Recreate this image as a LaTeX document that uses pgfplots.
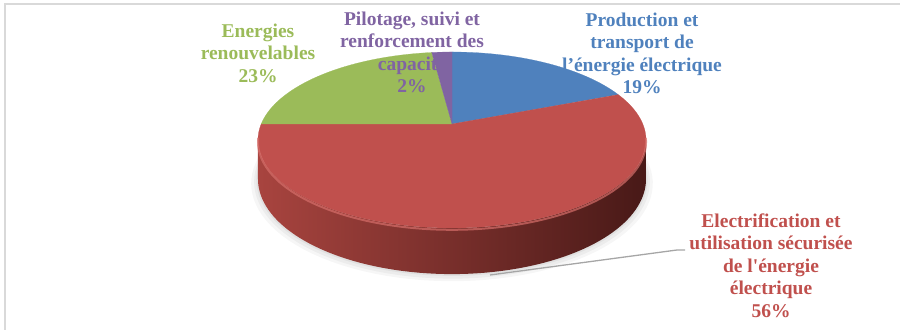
\documentclass[border=0pt]{standalone}
\usepackage{pgfplots}
\usepackage{pgfplotstable}
\pgfplotsset{compat=1.18}
\usepackage{fontspec}
\setmainfont{Liberation Serif}
\definecolor{cblue}{HTML}{4F81BD}
\definecolor{cred}{HTML}{C0504D}
\definecolor{cgreen}{HTML}{9BBB59}
\definecolor{cpurple}{HTML}{8064A2}
\definecolor{sideL}{HTML}{A8443F}
\definecolor{sideM}{HTML}{7A2C29}
\definecolor{sideR}{HTML}{481917}
\definecolor{rim}{HTML}{D66E6A}
\definecolor{frame}{HTML}{D9D9D9}
\definecolor{leader}{HTML}{A6A6A6}

\pgfplotstableread{
label pct
Production 19
Electrification 56
Energies 23
Pilotage 2
}\piedata
\pgfplotstablegetelem{0}{pct}\of\piedata\let\pA\pgfplotsretval
\pgfplotstablegetelem{1}{pct}\of\piedata\let\pB\pgfplotsretval
\pgfplotstablegetelem{2}{pct}\of\piedata\let\pC\pgfplotsretval
\pgfplotstablegetelem{3}{pct}\of\piedata\let\pD\pgfplotsretval
\pgfmathsetmacro{\aA}{90-3.6*\pA}
\pgfmathsetmacro{\aB}{\aA-3.6*\pB}
\pgfmathsetmacro{\aC}{\aB-3.6*\pC}
\pgfmathsetmacro{\aD}{\aC-3.6*\pD}

\newcommand\lbl[4]{%
  \foreach \s [count=\i from 0] in {#4} {
    \node[anchor=base, inner sep=0pt, text=#1] at (#2bp, {(330-#3-22.5*\i)*1bp}) {\s};
  }}
\newcommand\sq{{\addfontfeatures{Ligatures=TeXOff}'}}

\begin{document}
\begin{tikzpicture}[
  font=\fontsize{19.5bp}{22.5bp}\selectfont\bfseries,
  declare function={
    px(\p)=452+190.8*cos(\p)/(1+0.1818*sin(\p));
    py(\p)=206+85.1*sin(\p)/(1+0.1818*sin(\p));
    th(\p)=37.7/(1+0.1818*sin(\p));
    ph(\t)=(\t<=1)*(-169.5+159*\t)+(\t>1)*(-10.5-159*(\t-1));
  }]
\useasboundingbox (0,0) rectangle (900bp,330bp);
\begin{axis}[
  at={(0,0)}, anchor=origin,
  x=1bp, y=1bp, xmin=0, xmax=900, ymin=0, ymax=330,
  hide axis, clip=false]
% soft shadow under the pie
\addplot[fill=black, draw=none, opacity=0.035, domain=0:360, samples=120]
  ({452+1.035*190.8*cos(x)/(1+0.1818*sin(x))},{206+1.03*85.1*sin(x)/(1+0.1818*sin(x))-th(x)-4});
\addplot[fill=black, draw=none, opacity=0.04, domain=0:360, samples=120]
  ({452+1.02*190.8*cos(x)/(1+0.1818*sin(x))},{206+1.02*85.1*sin(x)/(1+0.1818*sin(x))-th(x)-2.5});
\addplot[fill=black, draw=none, opacity=0.05, domain=0:360, samples=120]
  ({452+1.008*190.8*cos(x)/(1+0.1818*sin(x))},{206+1.008*85.1*sin(x)/(1+0.1818*sin(x))-th(x)-1});
% side wall
\addplot[draw=none, left color=sideL, middle color=sideM, right color=sideR,
  domain=0:2, samples=161]
  ({px(ph(x))},{py(ph(x))-(x>1)*th(ph(x))}) -- cycle;
% top face slices
\addplot[fill=cblue, draw=cblue, line width=0.2pt, domain=\aA:90, samples=50]
  ({px(x)},{py(x)}) -- (axis cs:452,206) -- cycle;
\addplot[fill=cred, draw=cred, line width=0.2pt, domain=\aB:\aA, samples=120]
  ({px(x)},{py(x)}) -- (axis cs:452,206) -- cycle;
\addplot[fill=cgreen, draw=cgreen, line width=0.2pt, domain=\aC:\aB, samples=50]
  ({px(x)},{py(x)}) -- (axis cs:452,206) -- cycle;
\addplot[fill=cpurple, draw=cpurple, line width=0.2pt, domain=\aD:\aC, samples=10]
  ({px(x)},{py(x)}) -- (axis cs:452,206) -- cycle;
% bevel highlight on the front rim
\addplot[draw=rim, opacity=0.7, line width=2bp, domain=-172:-8, samples=100]
  ({px(x)},{py(x)-1.8});
\end{axis}
% frame
\draw[frame, line width=2bp] (4.5bp,0) -- (4.5bp,325.5bp) -- (900bp,325.5bp);
% leader line
\draw[leader, line width=1.3bp] (490bp,55bp) -- (677bp,80bp) -- (685bp,80bp);
% labels
\lbl{cpurple}{412}{25}{{Pilotage, suivi et},{renforcement des},{capacité},{2\%}}
\lbl{cgreen}{258}{37}{Energies,renouvelables,23\%}
\lbl{cblue}{642}{26}{Production et,transport de,l’énergie électrique,19\%}
\lbl{cred}{771}{227}{Electrification et,utilisation sécurisée,de l\sq énergie,électrique,56\%}
\end{tikzpicture}
\end{document}
